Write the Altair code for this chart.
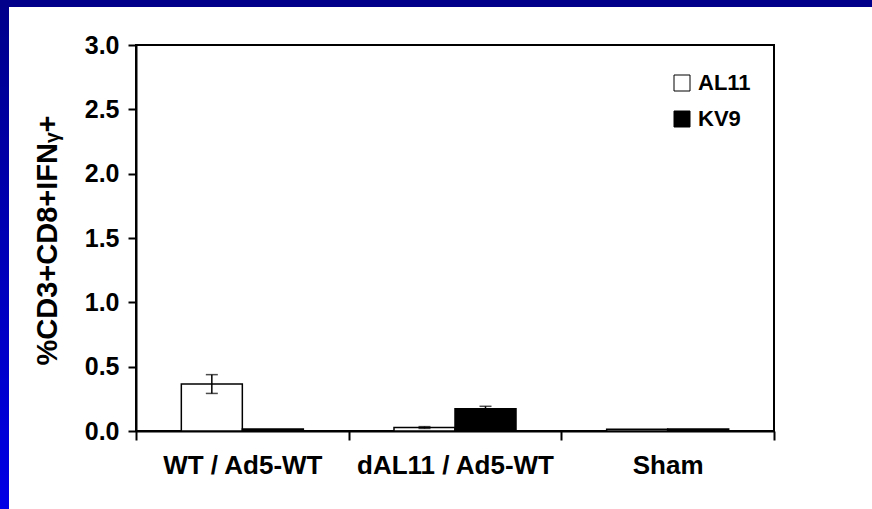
import altair as alt
import pandas as pd

groups = ["WT / Ad5-WT", "WT / Ad5-WT", "dAL11 / Ad5-WT", "dAL11 / Ad5-WT", "Sham", "Sham"]
peptides = ["AL11", "KV9", "AL11", "KV9", "AL11", "KV9"]
means = [0.365, 0.015, 0.027, 0.172, 0.013, 0.015]
errors = [0.073, 0.0, 0.007, 0.02, 0.0, 0.0]
group_order = ["WT / Ad5-WT", "dAL11 / Ad5-WT", "Sham"]
peptide_order = ["AL11", "KV9"]
y_ticks = [0.0, 0.5, 1.0, 1.5, 2.0, 2.5, 3.0]

df = pd.DataFrame({"group": groups, "peptide": peptides, "mean": means, "err": errors})
df["lo"] = df["mean"] - df["err"]
df["hi"] = df["mean"] + df["err"]

W, H = 638, 386
FONT = "Liberation Sans"

x_enc = alt.X("group:N", sort=group_order, title=None,
              scale=alt.Scale(paddingInner=0, paddingOuter=0),
              axis=alt.Axis(labelAngle=0, tickBand="extent", tickSize=9, labelLimit=400,
                            labelFontSize=26, labelFontWeight="bold", labelPadding=12))
xo_enc = alt.XOffset("peptide:N", sort=peptide_order,
                     scale=alt.Scale(paddingOuter=0.743, paddingInner=0))

bars = alt.Chart(df).mark_bar(stroke="black", strokeWidth=1.5).encode(
    x=x_enc,
    xOffset=xo_enc,
    y=alt.Y("mean:Q", title="%CD3+CD8+IFNᵧ+",
            scale=alt.Scale(domain=[0, 3], nice=False),
            axis=alt.Axis(values=y_ticks, format=".1f", tickSize=8,
                          labelFontSize=25, labelFontWeight="bold", labelPadding=9,
                          titleFontSize=29, titleFontWeight="bold",
                          titleX=-80, titleY=H / 2 + 2, titleBaseline="alphabetic")),
    fill=alt.Fill("peptide:N", sort=peptide_order,
                  scale=alt.Scale(domain=peptide_order, range=["white", "black"]),
                  legend=alt.Legend(title=None, orient="none", legendX=535, legendY=27,
                                    symbolType="square", symbolSize=256,
                                    symbolStrokeColor="black", symbolStrokeWidth=1,
                                    labelFontSize=22, labelFontWeight="bold",
                                    labelOffset=5, rowPadding=14, padding=0)),
)

err_df = alt.Chart(df).transform_filter("datum.err > 0")
rules = err_df.mark_rule(color="black", strokeWidth=1.5).encode(
    x=alt.X("group:N", sort=group_order), xOffset=xo_enc,
    y="lo:Q", y2="hi:Q")
caps_hi = err_df.mark_tick(color="black", size=12, thickness=1.5).encode(
    x=alt.X("group:N", sort=group_order), xOffset=xo_enc, y="hi:Q")
caps_lo = err_df.mark_tick(color="black", size=12, thickness=1.5).encode(
    x=alt.X("group:N", sort=group_order), xOffset=xo_enc, y="lo:Q")

one = alt.Data(values=[{"k": 1}])
grad = alt.Gradient(gradient="linear",
                    stops=[alt.GradientStop(color="#00008a", offset=0),
                           alt.GradientStop(color="#0000e6", offset=1)],
                    x1=0, x2=0, y1=0, y2=1)
left_band = alt.Chart(one).mark_rect(color=grad).encode(
    x=alt.value(-136), x2=alt.value(-127), y=alt.value(-45), y2=alt.value(H + 78))
top_band = alt.Chart(one).mark_rect(color="#00008a").encode(
    x=alt.value(-136), x2=alt.value(W + 98), y=alt.value(-45), y2=alt.value(-38))

chart = alt.layer(left_band, top_band, bars, rules, caps_hi, caps_lo).properties(
    width=W, height=H,
    autosize=alt.AutoSizeParams(type="none"),
    padding={"left": 136, "top": 45, "right": 98, "bottom": 78},
    background="white",
).configure_view(stroke="black", strokeWidth=2).configure_axis(
    grid=False, domainColor="black", domainWidth=2, tickColor="black", tickWidth=2,
    labelColor="black", titleColor="black", labelFont=FONT, titleFont=FONT
).configure_legend(labelFont=FONT, labelColor="black").configure_text(font=FONT)

chart.save("out.html", embed_options={"renderer": "svg", "actions": False})
